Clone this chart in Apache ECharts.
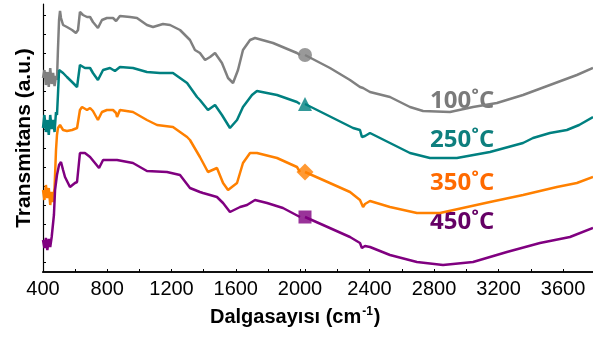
<!DOCTYPE html>
<html>
<head>
<meta charset="utf-8">
<script src="https://cdn.jsdelivr.net/npm/echarts@6/dist/echarts.min.js"></script>
<style>
  html, body { margin: 0; padding: 0; background: #fff; }
  #chart { width: 593px; height: 338px; }
</style>
</head>
<body>
<div id="chart"></div>
<script>
// FTIR spectra of samples calcined at four temperatures, offset vertically (a.u.)
// Each list holds [wavenumber (cm-1), transmittance (a.u.)] pairs.
const t100 = [
  [400,194],[409,202],[418,187],[427,200],[436,185],[445,204],[454,188],[463,199],[472,186],
  [481,196],[487,192],[493,222],[500,252],[506,261],[512,254],[525,247],[549,245],
  [581,242],[605,239],[618,242],[630,260],[649,257],[674,255],[693,255],[711,250],[742,244],[767,252],
  [798,254],[836,254],[855,251],[879,256],[942,255],[985,254],[1047,247],[1085,245],[1147,248],[1191,247],
  [1253,242],[1315,232],[1346,222],[1377,219],[1409,212],[1440,215],[1471,219],[1514,209],[1552,194],
  [1583,189],[1614,202],[1645,222],[1689,232],[1720,234],[1832,229],[1981,219],[2000,217],
  [2155,204],[2279,192],[2341,185],[2360,184],[2403,180],[2527,175],[2651,165],[2732,161],[2899,160],
  [3042,165],[3190,169],[3352,177],[3519,187],[3686,197],[3786,204]
];
const t250 = [
  [400,144],[409,157],[418,140],[427,152],[436,137],[445,157],[454,143],[463,152],[472,140],
  [481,160],[487,157],[493,177],[500,202],[506,204],[525,199],[549,195],
  [581,190],[612,185],[630,207],[661,204],[693,204],[711,199],[742,192],[774,202],[817,204],[848,201],
  [879,205],[960,204],[1047,200],[1128,199],[1209,199],[1297,189],[1359,175],[1377,172],[1427,162],
  [1471,167],[1514,157],[1564,144],[1608,152],[1645,165],[1701,177],[1732,181],[1857,177],[1981,170],[2000,168],
  [2112,159],[2298,144],[2341,142],[2353,135],[2372,136],[2403,139],[2527,129],[2651,119],[2775,114],
  [2942,114],[3147,120],[3352,129],[3414,134],[3519,139],[3624,142],[3700,147],[3786,155]
];
const t350 = [
  [400,82],[409,72],[418,87],[427,74],[436,84],[445,67],[454,80],[463,70],[472,84],
  [481,122],[487,137],[493,144],[506,147],[525,142],[549,141],[581,142],
  [612,144],[630,162],[643,165],[674,162],[693,164],[711,161],[742,152],[767,160],[798,162],[836,162],
  [855,159],[861,155],[879,162],[960,160],[1047,152],[1110,147],[1209,145],[1297,135],[1315,132],
  [1377,115],[1427,100],[1483,104],[1521,89],[1552,82],[1608,89],[1645,109],[1689,119],[1732,119],
  [1857,114],[1981,105],[2000,100],
  [2112,92],[2279,80],[2341,72],[2360,65],[2372,68],[2403,71],[2527,65],[2694,59],[2837,59],
  [3147,70],[3352,77],[3562,85],[3686,89],[3786,95]
];
const t450 = [
  [400,32],[409,24],[418,34],[427,22],[436,33],[445,25],[454,35],[462,37],[468,57],
  [475,82],[487,97],[500,107],[512,110],[525,102],[537,95],[568,85],[599,89],
  [612,90],[630,119],[661,119],[693,115],[749,104],[774,112],[861,112],[960,109],[1047,101],[1172,100],
  [1253,97],[1315,84],[1377,80],[1396,79],[1440,77],[1483,75],[1521,69],[1564,60],[1627,65],[1670,67],
  [1720,72],[1795,69],[1894,64],[2000,55],
  [2112,47],[2279,35],[2341,29],[2353,24],[2372,26],[2403,25],[2527,17],[2694,10],[2856,7],
  [3042,10],[3252,20],[3457,29],[3643,35],[3786,44]
];

const samples = ['100˚C', '250˚C', '350˚C', '450˚C'];
const spectra = [t100, t250, t350, t450];
const lineColors = ['#808080', '#008080', '#ff8000', '#800080'];
const labelColors = ['#7a7a7a', '#0e7f7e', '#ff6a00', '#650065'];
const symbols = ['circle', 'triangle', 'diamond', 'rect'];
const symbolSizes = [14, 14, 17, 13];

// broken wavenumber axis: 400–2000 and 2000–3786
const xBreak = 2000;
const yTicks = [10, 29, 48, 67, 86, 105, 124, 143, 162, 181, 200, 219, 238, 257];

const series = [];
spectra.forEach((d, i) => {
  series.push({
    type: 'line', xAxisIndex: 0, yAxisIndex: 0,
    data: d.filter(p => p[0] <= xBreak),
    showSymbol: false, silent: true,
    lineStyle: { color: lineColors[i], width: 2.5 }
  });
  series.push({
    type: 'line', xAxisIndex: 1, yAxisIndex: 1,
    data: d.filter(p => p[0] >= xBreak),
    showSymbol: false, silent: true,
    lineStyle: { color: lineColors[i], width: 2.5 }
  });
  series.push({
    type: 'scatter', xAxisIndex: 1, yAxisIndex: 1,
    data: d.filter(p => p[0] === xBreak),
    symbol: symbols[i], symbolSize: symbolSizes[i],
    itemStyle: { color: lineColors[i] }, z: 5
  });
});

const tickFont = { fontFamily: 'Liberation Sans', fontSize: 20, color: '#000' };
const labelFmt = v => (v % 400 === 0 ? String(v) : '');

const chart = echarts.init(document.getElementById('chart'), null, { renderer: 'canvas' });
chart.setOption({
  animation: false,
  backgroundColor: '#fff',
  grid: [
    { left: 43, top: 4, width: 257, height: 268 },
    { left: 305, top: 4, width: 288, height: 268 },
    { left: 43, top: 4, width: 550, height: 268 }
  ],
  xAxis: [
    {
      gridIndex: 0, type: 'value', min: 400, max: xBreak, interval: 200,
      axisLine: { lineStyle: { color: '#000', width: 1 } },
      axisTick: { inside: true, length: 3, lineStyle: { color: '#000' } },
      axisLabel: Object.assign({ formatter: labelFmt, margin: 7, showMinLabel: true, showMaxLabel: true }, tickFont),
      splitLine: { show: false }
    },
    {
      gridIndex: 1, type: 'value', min: xBreak, max: 3786, interval: 200,
      axisLine: { lineStyle: { color: '#000', width: 1 } },
      axisTick: { inside: true, length: 3, lineStyle: { color: '#000' } },
      axisLabel: Object.assign({
        formatter: v => (v === xBreak ? '' : labelFmt(v)), margin: 7, showMaxLabel: false
      }, tickFont),
      splitLine: { show: false }
    },
    {
      gridIndex: 2, type: 'value', position: 'top', min: 0, max: 1,
      axisLine: { lineStyle: { color: '#111', width: 2 } },
      axisTick: { show: false }, axisLabel: { show: false }, splitLine: { show: false }
    }
  ],
  yAxis: [
    {
      gridIndex: 0, type: 'value', min: 0, max: 268,
      axisLine: { show: true, lineStyle: { color: '#000', width: 1.2 } },
      axisTick: { inside: true, length: 3, customValues: yTicks, lineStyle: { color: '#000' } },
      axisLabel: { show: false }, splitLine: { show: false },
      name: 'Transmitans (a.u.)', nameLocation: 'middle', nameGap: 8,
      nameTextStyle: { fontFamily: 'Liberation Sans', fontWeight: 'bold', fontSize: 21, color: '#000' }
    },
    { gridIndex: 1, type: 'value', min: 0, max: 268, show: false },
    { gridIndex: 2, type: 'value', min: 0, max: 1, show: false }
  ],
  series: series,
  graphic: [
    {
      type: 'text', left: 210, top: 306,
      style: {
        text: '{a|Dalgasayısı (cm}{s|-1}{a|)}',
        rich: {
          a: { fontFamily: 'Liberation Sans', fontWeight: 'bold', fontSize: 20, color: '#000' },
          s: { fontFamily: 'Liberation Sans', fontWeight: 'bold', fontSize: 12, color: '#000', verticalAlign: 'top', padding: [0, 1, 10, 1] }
        }
      }
    }
  ].concat(samples.map((s, i) => ({
    type: 'text', x: 430, y: [89, 128, 171, 210][i],
    style: {
      text: s, fill: labelColors[i],
      font: 'bold 24px "Open Sans"'
    }
  })))
});
</script>
</body>
</html>
